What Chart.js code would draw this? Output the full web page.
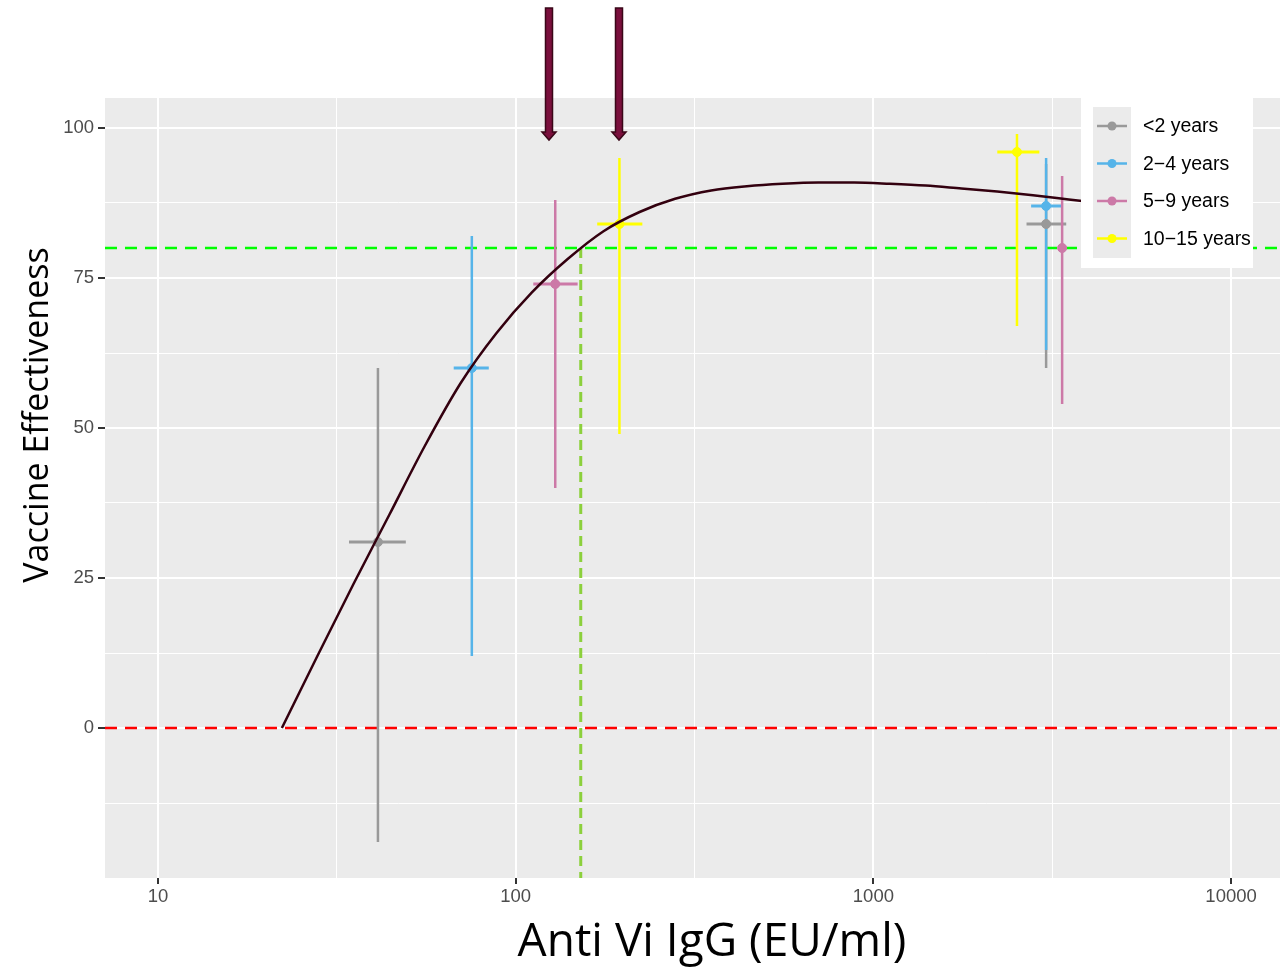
<!DOCTYPE html>
<html>
<head>
<meta charset="utf-8">
<title>Vaccine Effectiveness vs Anti Vi IgG</title>
<script src="https://cdn.jsdelivr.net/npm/chart.js@4.4.1/dist/chart.umd.min.js"></script>
<style>
  html, body { margin: 0; padding: 0; background: #fff; overflow: hidden; }
  #wrap { width: 1280px; height: 973px; }
</style>
</head>
<body>
<div id="wrap"><canvas id="veChart"></canvas></div>
<script>
// groups (age bands) and their colours
const groups = ['<2 years', '2\u22124 years', '5\u22129 years', '10\u221215 years'];
const groupColors = ['#999999', '#56B4E9', '#CC79A7', '#FFFF00'];

// observed points: group index, IgG (x) with range, VE (y) with CI
const pointGroup = [0, 0, 1, 1, 2, 2, 3, 3];
const pointIgG   = [41.2, 3040, 75.4, 3040, 129, 3370, 195, 2520];
const igGLow     = [34.2, 2680, 67.1, 2760, 112, null, 169, 2220];
const igGHigh    = [49.3, 3460, 84.1, 3350, 149, null, 226, 2910];
const pointVE    = [31, 84, 60, 87, 74, 80, 84, 96];
const veLow      = [-19, 60, 12, 63, 40, 54, 49, 67];
const veHigh     = [60, 94, 82, 95, 88, 92, 95, 99];

// fitted curve
const curveIgG = [22.2, 27.9, 35.2, 44.3, 55.7, 70.2, 88.3, 111, 140, 176, 222, 279, 352, 443,
                  557, 702, 883, 1112, 1400, 1762, 2218, 2793, 3516, 4426];
const curveVE  = [0, 12, 24, 35.5, 47, 57.5, 65.8, 72.6, 78.2, 82.8, 86.0, 88.2, 89.6, 90.3,
                  90.7, 90.9, 90.9, 90.7, 90.4, 89.9, 89.4, 88.8, 88.1, 87.4];

// reference lines and arrows
const zeroLine = 0;
const targetVE = 80;
const thresholdIgG = 152;
const arrowIgG = [124, 195];
const arrowTipVE = 98;
const arrowTopVE = 120;

// axes
const xTicks = [10, 31.62, 100, 316.2, 1000, 3162, 10000];
const xLabels = [10, 100, 1000, 10000];
const yTicks = [-12.5, 0, 12.5, 25, 37.5, 50, 62.5, 75, 87.5, 100];
const yLabels = [0, 25, 50, 75, 100];
const xTitle = 'Anti Vi IgG (EU/ml)';
const yTitle = 'Vaccine Effectiveness';

const scatterSets = groups.map((g, gi) => ({
    type: 'scatter',
    label: g,
    order: 2,
    data: pointIgG.map((x, i) => ({ x: x, y: pointVE[i], i: i })).filter(p => pointGroup[p.i] === gi),
    backgroundColor: groupColors[gi],
    borderColor: groupColors[gi],
    pointRadius: 4.5,
    pointHoverRadius: 4.5
}));

const background = {
    id: 'background',
    beforeDraw(chart) {
        const { ctx, chartArea: a } = chart;
        ctx.save();
        ctx.fillStyle = '#EBEBEB';
        ctx.fillRect(a.left, a.top, a.right - a.left, a.bottom - a.top);
        ctx.restore();
    }
};

// dashed reference lines + error bars, under the datasets
const underlay = {
    id: 'underlay',
    beforeDatasetsDraw(chart) {
        const { ctx, chartArea: a, scales: { x, y } } = chart;
        ctx.save();
        ctx.beginPath();
        ctx.rect(a.left, a.top, a.right - a.left, a.bottom - a.top);
        ctx.clip();

        // red line at 0, green at target
        ctx.setLineDash([12, 8]);
        ctx.lineWidth = 2.5;
        ctx.strokeStyle = '#FF0000';
        ctx.beginPath();
        ctx.moveTo(a.left, y.getPixelForValue(zeroLine));
        ctx.lineTo(a.right, y.getPixelForValue(zeroLine));
        ctx.stroke();
        ctx.strokeStyle = '#00FF00';
        ctx.beginPath();
        ctx.moveTo(a.left, y.getPixelForValue(targetVE));
        ctx.lineTo(a.right, y.getPixelForValue(targetVE));
        ctx.stroke();

        // vertical threshold
        ctx.setLineDash([10, 6]);
        ctx.lineWidth = 3;
        ctx.strokeStyle = '#8CD03C';
        ctx.beginPath();
        ctx.moveTo(x.getPixelForValue(thresholdIgG), y.getPixelForValue(targetVE));
        ctx.lineTo(x.getPixelForValue(thresholdIgG), a.bottom);
        ctx.stroke();
        ctx.setLineDash([]);

        // error bars
        pointIgG.forEach((v, i) => {
            const c = groupColors[pointGroup[i]];
            const px = x.getPixelForValue(v);
            const py = y.getPixelForValue(pointVE[i]);
            ctx.strokeStyle = c;
            ctx.lineWidth = 2.5;
            ctx.beginPath();
            ctx.moveTo(px, y.getPixelForValue(veLow[i]));
            ctx.lineTo(px, y.getPixelForValue(veHigh[i]));
            ctx.stroke();
            if (igGLow[i] !== null) {
                ctx.lineWidth = 3;
                ctx.beginPath();
                ctx.moveTo(x.getPixelForValue(igGLow[i]), py);
                ctx.lineTo(x.getPixelForValue(igGHigh[i]), py);
                ctx.stroke();
            }
        });
        ctx.restore();
    }
};

// arrows, legend and axis titles on top
const overlay = {
    id: 'overlay',
    afterDraw(chart) {
        const { ctx, chartArea: a, scales: { x, y } } = chart;
        ctx.save();

        // arrows
        arrowIgG.forEach(v => {
            const px = Math.round(x.getPixelForValue(v));
            const top = y.getPixelForValue(arrowTopVE);
            const tip = y.getPixelForValue(arrowTipVE);
            ctx.beginPath();
            ctx.moveTo(px - 3.5, top);
            ctx.lineTo(px + 3.5, top);
            ctx.lineTo(px + 3.5, tip - 8);
            ctx.lineTo(px + 7, tip - 8);
            ctx.lineTo(px, tip);
            ctx.lineTo(px - 7, tip - 8);
            ctx.lineTo(px - 3.5, tip - 8);
            ctx.closePath();
            ctx.fillStyle = '#7A0F3C';
            ctx.fill();
            ctx.lineWidth = 1.5;
            ctx.strokeStyle = '#3A0718';
            ctx.stroke();
        });

        // legend
        const lx = a.right - 199, ly = a.top;
        ctx.fillStyle = '#FFFFFF';
        ctx.fillRect(lx, ly, 172, 170);
        ctx.fillStyle = '#EBEBEB';
        ctx.fillRect(lx + 12, ly + 9, 38, 151);
        ctx.font = '19.5px "Liberation Sans", Arial, sans-serif';
        ctx.textBaseline = 'middle';
        ctx.textAlign = 'left';
        groups.forEach((g, i) => {
            const cy = ly + 28 + i * 37.5;
            ctx.strokeStyle = groupColors[i];
            ctx.lineWidth = 2.5;
            ctx.beginPath();
            ctx.moveTo(lx + 16, cy);
            ctx.lineTo(lx + 46, cy);
            ctx.stroke();
            ctx.fillStyle = groupColors[i];
            ctx.beginPath();
            ctx.arc(lx + 31, cy, 4.5, 0, Math.PI * 2);
            ctx.fill();
            ctx.fillStyle = '#000000';
            ctx.fillText(g, lx + 62, cy + 1);
        });

        // axis titles
        ctx.fillStyle = '#000000';
        ctx.textAlign = 'center';
        ctx.font = '46px "Open Sans", sans-serif';
        ctx.fillText(xTitle, 712, 943);
        ctx.translate(38, 415);
        ctx.rotate(-Math.PI / 2);
        ctx.font = '34px "Open Sans", sans-serif';
        ctx.fillText(yTitle, 0, 0);
        ctx.restore();
    }
};

const tickFont = { family: '"Liberation Sans", Arial, sans-serif', size: 18.5 };

new Chart(document.getElementById('veChart'), {
    data: {
        datasets: [
            {
                type: 'line',
                label: 'fit',
                order: 1,
                data: curveIgG.map((v, i) => ({ x: v, y: curveVE[i] })),
                borderColor: '#33000F',
                borderWidth: 2.5,
                pointRadius: 0,
                fill: false,
                cubicInterpolationMode: 'monotone'
            },
            ...scatterSets
        ]
    },
    options: {
        responsive: true,
        maintainAspectRatio: false,
        animation: false,
        events: [],
        layout: { autoPadding: false, padding: { top: 98, right: 0, bottom: 0, left: 0 } },
        scales: {
            x: {
                type: 'logarithmic',
                min: 7.11,
                max: 13700,
                afterBuildTicks: s => { s.ticks = xTicks.map(v => ({ value: v })); },
                afterFit: s => { s.height = 95; s.paddingLeft = 0; s.paddingRight = 0; },
                border: { display: false },
                grid: {
                    color: '#FFFFFF',
                    lineWidth: c => (c.tick && xLabels.includes(c.tick.value) ? 2 : 1),
                    tickColor: c => (c.tick && xLabels.includes(c.tick.value) ? '#333333' : 'rgba(0,0,0,0)'),
                    tickWidth: 2,
                    tickLength: 6
                },
                ticks: {
                    autoSkip: false,
                    maxRotation: 0,
                    padding: 2,
                    color: '#4D4D4D',
                    font: tickFont,
                    callback: v => (xLabels.includes(v) ? String(v) : '')
                }
            },
            y: {
                min: -25,
                max: 105,
                afterBuildTicks: s => { s.ticks = yTicks.map(v => ({ value: v })); },
                afterFit: s => { s.width = 105; s.paddingTop = 0; s.paddingBottom = 0; },
                border: { display: false },
                grid: {
                    color: '#FFFFFF',
                    lineWidth: c => (c.tick && yLabels.includes(c.tick.value) ? 2 : 1),
                    tickColor: c => (c.tick && yLabels.includes(c.tick.value) ? '#333333' : 'rgba(0,0,0,0)'),
                    tickWidth: 2,
                    tickLength: 7
                },
                ticks: {
                    padding: 4,
                    color: '#4D4D4D',
                    font: tickFont,
                    callback: v => (yLabels.includes(v) ? String(v) : '')
                }
            }
        },
        plugins: {
            legend: { display: false },
            tooltip: { enabled: false }
        }
    },
    plugins: [background, underlay, overlay]
});
</script>
</body>
</html>
